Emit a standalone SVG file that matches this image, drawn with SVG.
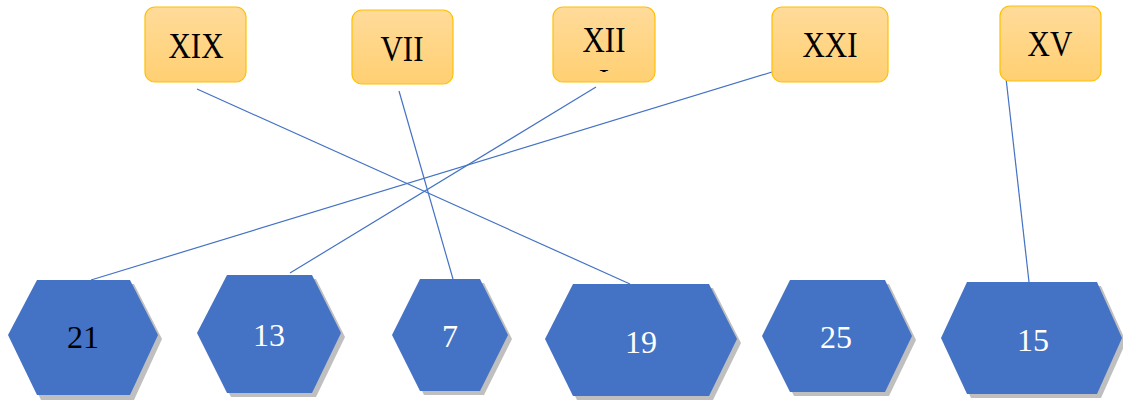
<svg xmlns="http://www.w3.org/2000/svg" width="1123" height="400" viewBox="0 0 1123 400">
<defs>
<linearGradient id="og" x1="0" y1="0" x2="0" y2="1">
<stop offset="0" stop-color="#FFDB9A"/>
<stop offset="1" stop-color="#FFD072"/>
</linearGradient>
<clipPath id="xiiclip"><rect x="553" y="62" width="102" height="10"/></clipPath>
<style>
.box{fill:url(#og);stroke:#FFC000;stroke-width:1.2}
.lab{font-family:"Liberation Serif",serif;font-size:31px;fill:#000;text-anchor:middle}
.hex{fill:#4472C4}
.sh{fill:#BFBFBF}
.num{font-family:"Liberation Serif",serif;font-size:32px;fill:#fff;text-anchor:middle}
.con{stroke:#4472C4;stroke-width:1.2;fill:none}
</style>
</defs>
<rect width="1123" height="400" fill="#fff"/>
<g id="connectors">
<line class="con" x1="197" y1="89" x2="630" y2="284"/>
<line class="con" x1="399" y1="91" x2="453" y2="279"/>
<line class="con" x1="596" y1="87" x2="290" y2="273"/>
<line class="con" x1="772" y1="72" x2="91" y2="280"/>
<line class="con" x1="1006" y1="78" x2="1029" y2="282"/>
</g>
<g id="n-XIX"><rect class="box" x="145" y="7" width="101" height="75" rx="10"/><text class="lab" x="196" y="58" transform="translate(196 58) scale(1 1.15) translate(-196 -58)">XIX</text></g>
<g id="n-VII"><rect class="box" x="352" y="10" width="101" height="74" rx="10"/><text class="lab" x="402" y="61" transform="translate(402 61) scale(1 1.15) translate(-402 -61)">VII</text></g>
<g id="n-XII"><rect class="box" x="553" y="7" width="102" height="75" rx="10"/><text class="lab" x="604" y="52" transform="translate(604 52) scale(1 1.15) translate(-604 -52)">XII</text><text class="lab" x="604" y="91" clip-path="url(#xiiclip)">I</text></g>
<g id="n-XXI"><rect class="box" x="772" y="7" width="116" height="75" rx="10"/><text class="lab" x="830" y="57" transform="translate(830 57) scale(1 1.15) translate(-830 -57)">XXI</text></g>
<g id="n-XV"><rect class="box" x="1000" y="6" width="101" height="75" rx="10"/><text class="lab" x="1050" y="56" transform="translate(1050 56) scale(1 1.15) translate(-1050 -56)">XV</text></g>
<g id="h-21"><polygon class="sh" points="41,284 134,284 162,339 134,400 41,400 12,339"/><polygon class="hex" points="37,280 130,280 158,335 130,395 37,395 8,335"/><text class="num" x="83" y="348" style="fill:#000">21</text></g>
<g id="h-13"><polygon class="sh" points="231,279 316,279 345,337 316,397 231,397 201,337"/><polygon class="hex" points="227,275 312,275 341,333 312,393 227,393 197,333"/><text class="num" x="269" y="346">13</text></g>
<g id="h-7"><polygon class="sh" points="424,283 484,283 512,339 484,395 424,395 396,339"/><polygon class="hex" points="420,279 480,279 508,335 480,391 420,391 392,335"/><text class="num" x="450" y="347">7</text></g>
<g id="h-19"><polygon class="sh" points="577,288 713,288 741,343 713,400 577,400 549,343"/><polygon class="hex" points="573,284 709,284 737,339 709,396 573,396 545,339"/><text class="num" x="641" y="353">19</text></g>
<g id="h-25"><polygon class="sh" points="794,284 889,284 916,340 889,396 794,396 766,340"/><polygon class="hex" points="790,280 885,280 912,336 885,392 790,392 762,336"/><text class="num" x="836" y="348">25</text></g>
<g id="h-15"><polygon class="sh" points="971,286 1101,286 1126,342 1101,398 971,398 945,342"/><polygon class="hex" points="967,282 1097,282 1122,338 1097,394 967,394 941,338"/><text class="num" x="1033" y="351">15</text></g>
</svg>
